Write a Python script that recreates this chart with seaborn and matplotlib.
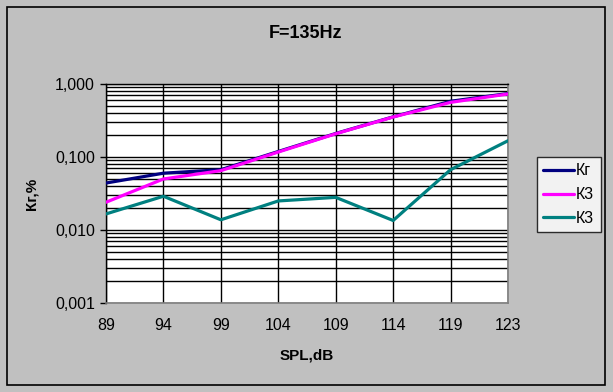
import numpy as np
import pandas as pd
import matplotlib
matplotlib.use("Agg")
import matplotlib.pyplot as plt
import matplotlib.ticker as mticker
from matplotlib.patches import Rectangle
import seaborn as sns

# ---- data ----
spl = ["89", "94", "99", "104", "109", "114", "119", "123"]
kg = [0.044, 0.060, 0.067, 0.119, 0.210, 0.355, 0.58, 0.74]
k3 = [0.024, 0.050, 0.065, 0.117, 0.208, 0.353, 0.56, 0.73]
k3b = [0.0166, 0.029, 0.0138, 0.025, 0.028, 0.0135, 0.067, 0.167]
labels = ["Кг", "К3", "К3"]
colors = ["#000080", "#FF00FF", "#008080"]

sns.set_theme(style="white")
plt.rcParams["font.family"] = ["Liberation Sans", "DejaVu Sans"]
plt.rcParams["text.color"] = "black"
plt.rcParams["axes.labelcolor"] = "black"

W, H = 613, 392
fig = plt.figure(figsize=(W / 100, H / 100), dpi=100)
bg = "#C0C0C0"
fig.patch.set_facecolor(bg)

# outer frame
fig.patches.append(Rectangle((7 / W, 1 - 385 / H), (605 - 7) / W, (385 - 7) / H,
                             transform=fig.transFigure, fill=False,
                             edgecolor="black", linewidth=1.2))

ax = fig.add_axes([106 / W, 1 - 303 / H, (508 - 106) / W, (303 - 84) / H])
ax.set_facecolor("white")

x = np.arange(len(spl))
df = pd.DataFrame({"x": np.tile(x, 3),
                   "v": kg + k3 + k3b,
                   "s": np.repeat(["a", "b", "c"], len(spl))})
for sid, lab, c in zip(["a", "b", "c"], labels, colors):
    sns.lineplot(data=df[df.s == sid], x="x", y="v", color=c, linewidth=2.3,
                 ax=ax, label=lab, zorder=3)

ax.set_yscale("log")
ax.set_ylim(0.001, 1.0)
ax.set_xlim(0, len(spl) - 1)
ax.set_xticks(x)
ax.set_xticklabels(spl)
ax.yaxis.set_major_locator(mticker.LogLocator(base=10, numticks=10))
ax.yaxis.set_minor_locator(mticker.LogLocator(base=10, subs=np.arange(2, 10), numticks=20))
ax.yaxis.set_major_formatter(mticker.FuncFormatter(lambda v, p: f"{v:.3f}".replace(".", ",")))
ax.yaxis.set_minor_formatter(mticker.NullFormatter())

ax.grid(True, which="major", axis="both", color="black", linewidth=1.0)
ax.grid(True, which="minor", axis="y", color="black", linewidth=1.0)
ax.set_axisbelow(True)

ax.tick_params(axis="y", which="major", length=4, width=1, color="black", left=True,
               labelsize=11.5, pad=4, labelcolor="black")
ax.tick_params(axis="y", which="minor", length=0)
ax.tick_params(axis="x", length=0, labelsize=11.5, pad=11, labelcolor="black")

for side in ["left", "top"]:
    ax.spines[side].set_color("black")
    ax.spines[side].set_linewidth(1.0)
for side in ["right", "bottom"]:
    ax.spines[side].set_color("#808080")
    ax.spines[side].set_linewidth(1.2)

ax.set_xlabel("SPL,dB", fontsize=11, fontweight="bold", labelpad=11)
ax.set_ylabel("Кг,%", fontsize=11, fontweight="bold", labelpad=12)
fig.text(0.5 * (7 + 605) / W, 1 - 34 / H, "F=135Hz", ha="center", va="center",
         fontsize=13, fontweight="bold")

leg = ax.legend(loc="upper left", bbox_to_anchor=(537 / W, 1 - 157 / H),
                bbox_transform=fig.transFigure, frameon=True, fancybox=False,
                fontsize=11.5, handlelength=1.9, handletextpad=0.15,
                borderpad=0.4, labelspacing=0.55, borderaxespad=0)
leg.get_frame().set_edgecolor("black")
leg.get_frame().set_linewidth(1.0)
leg.get_frame().set_facecolor("white")

fig.savefig("out.png", dpi=100, facecolor=bg)
